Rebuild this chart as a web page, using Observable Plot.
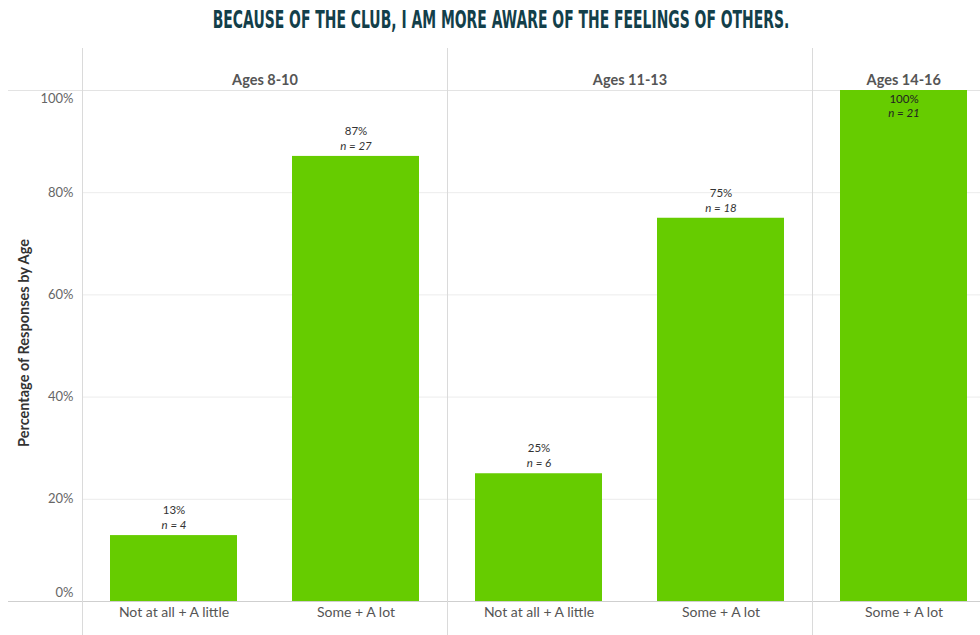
<!DOCTYPE html>
<html>
<head>
<meta charset="utf-8">
<script src="https://cdn.jsdelivr.net/npm/d3@7"></script>
<script src="https://cdn.jsdelivr.net/npm/@observablehq/plot@0.6"></script>
<style>
  html, body { margin: 0; padding: 0; background: #fff; }
  #root { position: relative; width: 980px; height: 635px; overflow: hidden; font-family: Lato, "Open Sans", sans-serif; }
  #title { position: absolute; top: 6px; left: 501px; white-space: nowrap;
    transform: translateX(-50%) scaleX(0.58); transform-origin: center;
    font-family: "DejaVu Sans", sans-serif;
    font-weight: bold; font-size: 24px; color: #133f4a; }
  .panel { position: absolute; top: 48px; }
  .panel svg { max-width: none !important; }
  .sep { position: absolute; top: 48px; height: 587px; width: 0; border-left: 1px solid #dadada; pointer-events: none; }
</style>
</head>
<body>
<div id="root">
  <div id="title">BECAUSE OF THE CLUB, I AM MORE AWARE OF THE FEELINGS OF OTHERS.</div>
</div>
<script>
// ---- data ----
const ageGroups = ["Ages 8-10", "Ages 11-13", "Ages 14-16"];
const barGroup = ["Ages 8-10", "Ages 8-10", "Ages 11-13", "Ages 11-13", "Ages 14-16"];
const barResponse = ["Not at all + A little", "Some + A lot", "Not at all + A little", "Some + A lot", "Some + A lot"];
const barPercent = [12.9, 87.1, 25, 75, 100];
const barCount = [4, 27, 6, 18, 21];
const yTicks = [0, 20, 40, 60, 80, 100];

const rowsAll = barGroup.map((g, i) => ({group: g, response: barResponse[i], pct: barPercent[i], n: barCount[i]}));

const root = document.getElementById("root");
const step = 182.5;
const axisWidth = 82;
let left = 0;

ageGroups.forEach((group, gi) => {
  const rows = rowsAll.filter(d => d.group === group);
  const withAxis = gi === 0;
  const mLeft = withAxis ? axisWidth : 0;
  const width = mLeft + rows.length * step;
  const ext = withAxis ? -74 : 0;
  const inner = yTicks.filter(t => t > 0 && t < 100);
  const marks = [
    Plot.ruleY(inner, {stroke: "#ececec", strokeWidth: 1}),
    Plot.ruleY([100], {stroke: "#e3e3e3", strokeWidth: 1, insetLeft: ext}),
    Plot.barY(rows, {x: "response", y: "pct", fill: "#66cc00"}),
    Plot.ruleY([0], {stroke: "#cfcfcf", strokeWidth: 1, insetLeft: ext}),
    Plot.text(rows.filter(d => d.pct < 95), {x: "response", y: "pct", text: d => `${Math.round(d.pct)}%`, dy: -25, fontSize: 11.5, fill: "#333"}),
    Plot.text(rows.filter(d => d.pct < 95), {x: "response", y: "pct", text: d => `n = ${d.n}`, dy: -10, fontSize: 11.5, fontStyle: "italic", fill: "#333"}),
    Plot.text(rows.filter(d => d.pct >= 95), {x: "response", y: "pct", text: d => `${Math.round(d.pct)}%`, dy: 9, fontSize: 11.5, fill: "#222"}),
    Plot.text(rows.filter(d => d.pct >= 95), {x: "response", y: "pct", text: d => `n = ${d.n}`, dy: 23, fontSize: 11.5, fontStyle: "italic", fill: "#222"}),
    Plot.text([group], {frameAnchor: "top", lineAnchor: "middle", dy: -10, fontSize: 14.5, fontWeight: "bold", fill: "#555"}),
    Plot.axisX({tickSize: 0, tickPadding: 6, fontSize: 14, fill: "#555", label: null})
  ];
  if (withAxis) {
    marks.push(
      Plot.axisY({ticks: inner, tickSize: 0, tickPadding: 9, fontSize: 13, fill: "#666", tickFormat: d => `${d}%`, label: null}),
      Plot.axisY({ticks: [0], tickSize: 0, tickPadding: 9, dy: -9, fontSize: 13, fill: "#666", tickFormat: d => `${d}%`, label: null}),
      Plot.axisY({ticks: [100], tickSize: 0, tickPadding: 9, dy: 8, fontSize: 13, fill: "#666", tickFormat: d => `${d}%`, label: null}),
      Plot.text(["Percentage of Responses by Age"], {frameAnchor: "left", textAnchor: "middle", rotate: -90, dx: -58, dy: -3, fontSize: 14.5, fontWeight: "bold", fill: "#333"})
    );
  } else {
    marks.push(Plot.axisY({ticks: [], label: null}));
  }
  const chart = Plot.plot({
    width: width,
    height: 587,
    marginTop: 42,
    marginBottom: 34,
    marginLeft: mLeft,
    marginRight: 0,
    style: {fontFamily: "Lato, 'Open Sans', sans-serif", background: "transparent", overflow: "visible"},
    x: {domain: rows.map(d => d.response), paddingInner: 0.3, paddingOuter: 0.15},
    y: {domain: [0, 100]},
    marks
  });
  const div = document.createElement("div");
  div.className = "panel";
  div.style.left = left + "px";
  div.style.width = width + "px";
  div.appendChild(chart);
  root.appendChild(div);
  const sep = document.createElement("div");
  sep.className = "sep";
  sep.style.left = (left + mLeft) + "px";
  root.appendChild(sep);
  left += width;
});
</script>
</body>
</html>
